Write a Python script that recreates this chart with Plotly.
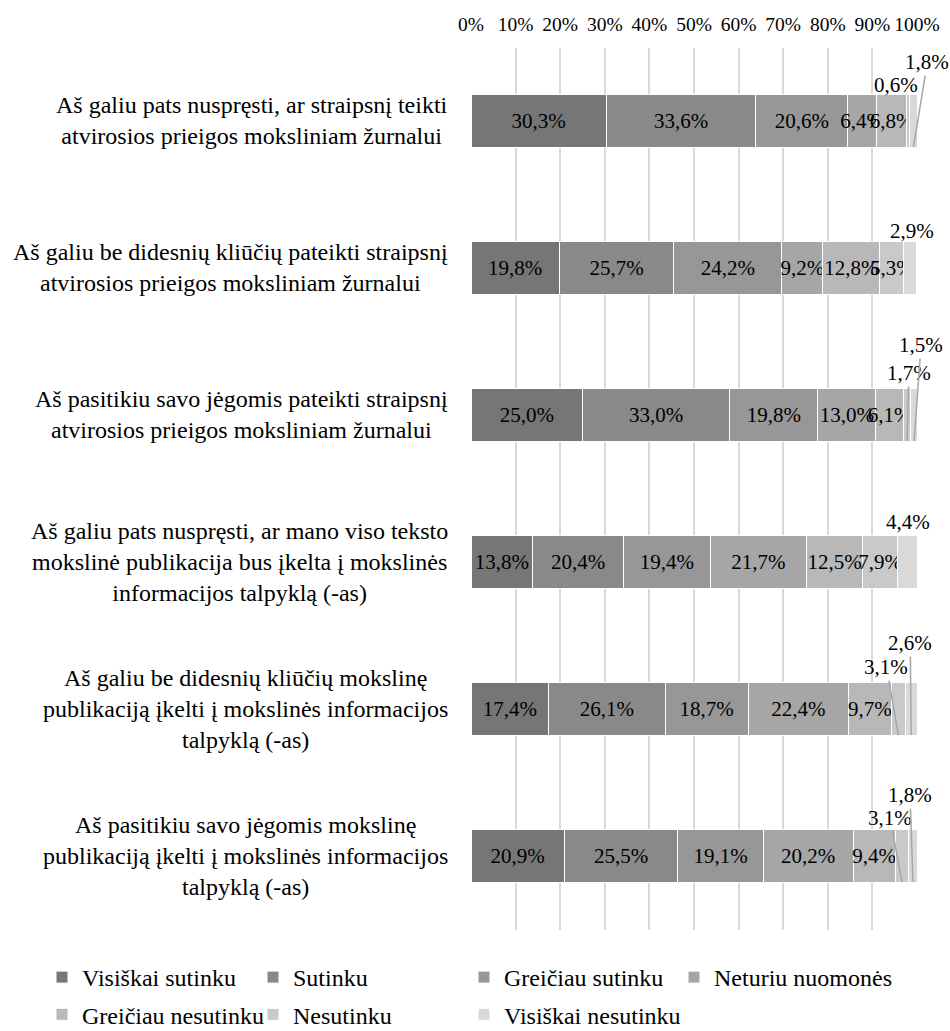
import plotly.graph_objects as go

# statements (top to bottom)
categories = [
    "Aš galiu pats nuspręsti, ar straipsnį teikti<br>atvirosios prieigos moksliniam žurnalui",
    "Aš galiu be didesnių kliūčių pateikti straipsnį<br>atvirosios prieigos moksliniam žurnalui",
    "Aš pasitikiu savo jėgomis pateikti straipsnį<br>atvirosios prieigos moksliniam žurnalui",
    "Aš galiu pats nuspręsti, ar mano viso teksto<br>mokslinė publikacija bus įkelta į mokslinės<br>informacijos talpyklą (-as)",
    "Aš galiu be didesnių kliūčių mokslinę<br>publikaciją įkelti į mokslinės informacijos<br>talpyklą (-as)",
    "Aš pasitikiu savo jėgomis mokslinę<br>publikaciją įkelti į mokslinės informacijos<br>talpyklą (-as)",
]

series_names = [
    "Visiškai sutinku",
    "Sutinku",
    "Greičiau sutinku",
    "Neturiu nuomonės",
    "Greičiau nesutinku",
    "Nesutinku",
    "Visiškai nesutinku",
]

visiskai_sutinku = [30.3, 19.8, 25.0, 13.8, 17.4, 20.9]
sutinku = [33.6, 25.7, 33.0, 20.4, 26.1, 25.5]
greiciau_sutinku = [20.6, 24.2, 19.8, 19.4, 18.7, 19.1]
neturiu_nuomones = [6.4, 9.2, 13.0, 21.7, 22.4, 20.2]
greiciau_nesutinku = [6.8, 12.8, 6.1, 12.5, 9.7, 9.4]
nesutinku = [0.6, 5.3, 1.7, 7.9, 3.1, 3.1]
visiskai_nesutinku = [1.8, 2.9, 1.5, 4.4, 2.6, 1.8]

values = [visiskai_sutinku, sutinku, greiciau_sutinku, neturiu_nuomones,
          greiciau_nesutinku, nesutinku, visiskai_nesutinku]

tick_vals = [0, 10, 20, 30, 40, 50, 60, 70, 80, 90, 100]
tick_text = [f"{t}%" for t in tick_vals]

colors = ["#767676", "#898989", "#979797", "#a6a6a6", "#b8b8b8", "#c9c9c9", "#d9d9d9"]

# callout labels for small segments: (row, series) -> (dx, dy, leader line)
callouts = {
    (0, 5): (-12, -62, False), (0, 6): (14, -85, True),
    (1, 6): (2, -63, False),
    (2, 5): (2, -68, True), (2, 6): (7, -96, True),
    (3, 6): (0, -66, False),
    (4, 5): (-12, -68, True), (4, 6): (-1, -92, True),
    (5, 5): (-12, -64, True), (5, 6): (-3, -87, True),
}

W, H = 950, 1031
x0, x1 = 471, 917
y_top, y_bot = 47.5, 929.5
bargap = 0.646
FONT = "Liberation Serif"

# legend laid out in 4 columns, two rows (column legend ids)
legend_cols = ["legend", "legend2", "legend3", "legend4"]
legend_col_x = [42, 253, 464, 674]


def fmt(v):
    return f"{v:.1f}".replace(".", ",") + "%"


fig = go.Figure()

for s, (name, vals) in enumerate(zip(series_names, values)):
    texts = [fmt(v) if (r, s) not in callouts else "" for r, v in enumerate(vals)]
    fig.add_trace(go.Bar(
        y=list(range(len(categories))),
        x=vals,
        orientation="h",
        name=name,
        marker=dict(color=colors[s], line=dict(color="white", width=1)),
        text=texts,
        textposition="inside",
        insidetextanchor="middle",
        constraintext="none",
        textangle=0,
        textfont=dict(family=FONT, size=21, color="black"),
        insidetextfont=dict(family=FONT, size=21, color="black"),
        legend=legend_cols[s % 4],
        legendgroup=name,
        hoverinfo="skip",
    ))

annotations = []
# category labels
for r, cat in enumerate(categories):
    annotations.append(dict(
        text=cat, xref="paper", yref="y", x=450 / W, y=r,
        xanchor="right", yanchor="middle", align="center", showarrow=False,
        font=dict(family=FONT, size=24, color="black"),
    ))

# small-segment labels placed above the bar
half = (1 - bargap) / 2
for (r, s), (dx, dy, line) in callouts.items():
    start = sum(values[k][r] for k in range(s))
    v = values[s][r]
    annotations.append(dict(
        text=fmt(v), xref="x", yref="y", x=start + v / 2, y=r + half,
        ax=dx, ay=dy, showarrow=True, arrowhead=0, arrowwidth=1.5,
        arrowcolor="#a6a6a6" if line else "rgba(0,0,0,0)", standoff=0,
        font=dict(family=FONT, size=21, color="black"),
    ))

legends = {}
for lid, lx in zip(legend_cols, legend_col_x):
    legends[lid] = dict(
        orientation="v", x=lx / W, xanchor="left", y=1 - 955 / H, yanchor="top",
        traceorder="grouped", tracegroupgap=3, bgcolor="rgba(0,0,0,0)",
        font=dict(family=FONT, size=24, color="black"),
    )

fig.update_layout(
    width=W, height=H,
    margin=dict(l=0, r=0, t=0, b=0, autoexpand=False),
    paper_bgcolor="white", plot_bgcolor="white",
    barmode="stack", bargap=bargap,
    font=dict(family=FONT, size=20, color="black"),
    xaxis=dict(
        domain=[x0 / W, x1 / W], range=[0, 100], side="top",
        tickvals=tick_vals, ticktext=tick_text, showgrid=True,
        gridcolor="#d9d9d9", gridwidth=2, zeroline=False, showline=False,
        ticks="", ticklabelstandoff=12, automargin=False,
        tickfont=dict(family=FONT, size=19.5, color="black"),
    ),
    yaxis=dict(
        domain=[1 - y_bot / H, 1 - y_top / H], range=[5.5, -0.5],
        showticklabels=False, showgrid=False, zeroline=False, showline=False,
        automargin=False,
    ),
    annotations=annotations,
    showlegend=True,
    **legends,
)

fig.write_html("out.html", config={"displayModeBar": False},
               post_script="document.body.style.margin = '0';")
